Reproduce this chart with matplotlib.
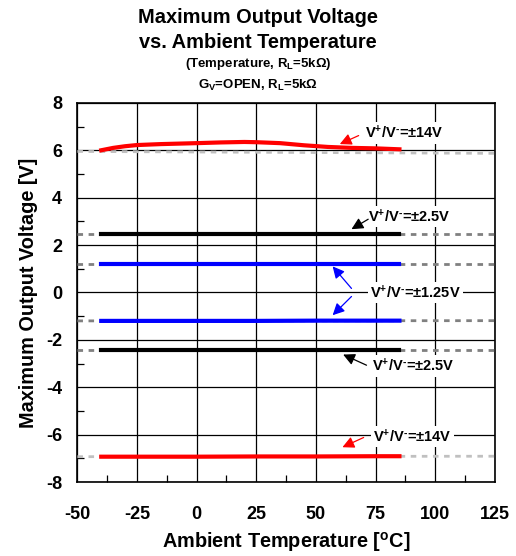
import matplotlib.pyplot as plt
from matplotlib.ticker import MultipleLocator

plt.rcParams['font.family'] = ['Liberation Sans', 'DejaVu Sans']
plt.rcParams['font.weight'] = 'bold'
plt.rcParams['axes.unicode_minus'] = False
plt.rcParams['mathtext.fontset'] = 'custom'
plt.rcParams['mathtext.bf'] = 'Liberation Sans:bold'
plt.rcParams['mathtext.rm'] = 'Liberation Sans:bold'
plt.rcParams['mathtext.default'] = 'bf'

temp_p14 = [-40, -35, -30, -25, -15, 0, 10, 20, 25, 35, 45, 55, 65, 75, 85]
vout_p14 = [6.00, 6.10, 6.17, 6.22, 6.26, 6.30, 6.33, 6.35, 6.34, 6.30, 6.21, 6.14, 6.10, 6.08, 6.04]
temp = [-40, -25, 0, 25, 50, 75, 85]
vout_p25 = [2.45, 2.45, 2.45, 2.45, 2.45, 2.45, 2.45]
vout_p125 = [1.22, 1.22, 1.22, 1.22, 1.22, 1.22, 1.22]
vout_n125 = [-1.20, -1.20, -1.20, -1.20, -1.19, -1.19, -1.19]
vout_n25 = [-2.42, -2.42, -2.42, -2.42, -2.42, -2.42, -2.42]
vout_n14 = [-6.93, -6.93, -6.93, -6.92, -6.92, -6.91, -6.91]

# extrapolated (dashed) lines over -50..125
temp_ext = [-50, 125]
ext_p14 = [5.95, 5.87]
ext_p25 = [2.45, 2.45]
ext_p125 = [1.22, 1.22]
ext_n125 = [-1.20, -1.19]
ext_n25 = [-2.42, -2.42]
ext_n14 = [-6.93, -6.91]

fig = plt.figure(figsize=(5.16, 5.56), dpi=100)
ax = fig.add_axes([0.150, 0.133, 0.809, 0.682])

ax.set_xlim(-50, 125)
ax.set_ylim(-8, 8)
ax.xaxis.set_major_locator(MultipleLocator(25))
ax.xaxis.set_minor_locator(MultipleLocator(12.5))
ax.yaxis.set_major_locator(MultipleLocator(2))
ax.yaxis.set_minor_locator(MultipleLocator(1))
ax.grid(True, which='major', color='black', linewidth=0.9)
ax.tick_params(which='both', direction='in', labelsize=13)
ax.tick_params(which='major', length=0)
ax.tick_params(axis='x', which='major', pad=17)
ax.tick_params(axis='y', which='major', pad=11)
ax.tick_params(which='minor', length=5, width=0.9)
for s in ax.spines.values():
    s.set_linewidth(1.2)

light = '#c0c0c0'
dark = '#808080'
ax.plot(temp_ext, ext_p14, color=light, lw=2, ls=(0, (2, 2)), zorder=3)
ax.plot(temp_ext, ext_n14, color=light, lw=2, ls=(0, (2, 2)), zorder=3)
for e in [ext_p25, ext_p125, ext_n125, ext_n25]:
    ax.plot(temp_ext, e, color=dark, lw=2, ls=(0, (2, 2)), zorder=3)

ax.plot(temp_p14, vout_p14, color='#ff0000', lw=3, zorder=4)
ax.plot(temp, vout_n14, color='#ff0000', lw=3, zorder=4)
ax.plot(temp, vout_p25, color='black', lw=3, zorder=4)
ax.plot(temp, vout_n25, color='black', lw=3, zorder=4)
ax.plot(temp, vout_p125, color='#0000ff', lw=3, zorder=4)
ax.plot(temp, vout_n125, color='#0000ff', lw=3, zorder=4)

box = dict(boxstyle='square,pad=0.15', fc='white', ec='none')
lab14 = 'V$^{+}$/V$^{\u2010}$=±14V'
lab25 = 'V$^{+}$/V$^{\u2010}$=±2.5V'
lab125 = 'V$^{+}$/V$^{\u2010}$=±1.25V'

def note(text, xy_text, arrows, color):
    ax.text(xy_text[0], xy_text[1], text, fontsize=10.5, fontweight='bold',
            va='center', ha='left', bbox=box, zorder=5)
    for tail, head in arrows:
        ax.annotate('', xy=head, xytext=tail, zorder=6,
                    arrowprops=dict(arrowstyle='-|>,head_length=0.7,head_width=0.35',
                                    color=color, lw=0.9, shrinkA=0, shrinkB=0))

note(lab14, (70.5, 6.73), [((67.9, 6.62), (60, 6.26))], '#ff0000')
note(lab25, (72, 3.2), [((71.9, 3.09), (64.9, 2.67))], 'black')
note(lab125, (72.6, 0.0), [((64.9, 0.17), (57, 1.1)), ((64.9, -0.17), (57, -0.96))], '#0000ff')
note(lab25, (73.3, -3.1), [((71.2, -3.07), (61.4, -2.62))], 'black')
note(lab14, (74, -6.08), [((70, -6.12), (61.1, -6.53))], '#ff0000')

ax.set_xlabel('Ambient Temperature [$^{o}$C]', fontsize=14.3, fontweight='bold', labelpad=5)
ax.set_ylabel('Maximum Output Voltage [V]', fontsize=14.3, fontweight='bold', labelpad=6)

fig.text(0.5, 0.969, 'Maximum Output Voltage', ha='center', va='center', fontsize=14.4, fontweight='bold')
fig.text(0.5, 0.923, 'vs. Ambient Temperature', ha='center', va='center', fontsize=14.4, fontweight='bold')
fig.text(0.5, 0.884, '(Temperature, R$_{L}$=5kΩ)', ha='center', va='center', fontsize=9.5, fontweight='bold')
fig.text(0.5, 0.847, 'G$_{V}$=OPEN, R$_{L}$=5kΩ', ha='center', va='center', fontsize=9.5, fontweight='bold')

fig.savefig('out.png', dpi=100)
